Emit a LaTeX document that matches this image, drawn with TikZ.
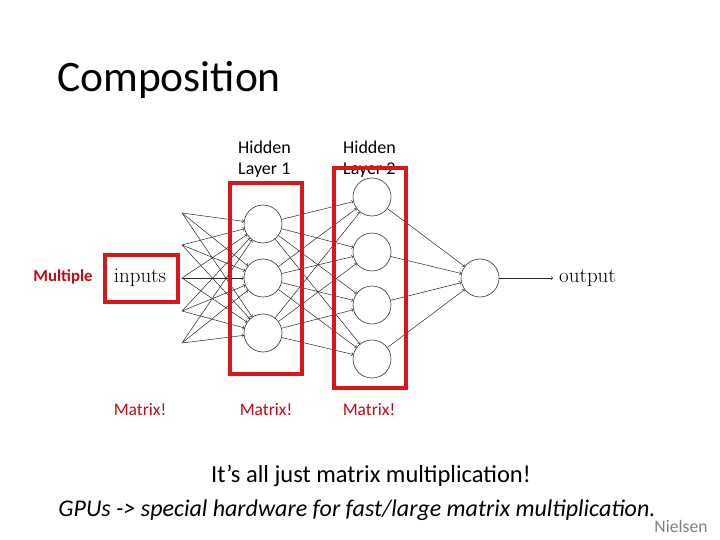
\documentclass[tikz,border=0pt]{standalone}
\usepackage{fontspec}
\newfontfamily\calibri{Carlito}
\definecolor{boxred}{RGB}{218,22,22}
\definecolor{textred}{RGB}{196,10,20}
\definecolor{credit}{RGB}{128,128,128}

\begin{document}
\begin{tikzpicture}[x=1pt, y=-1pt,
  neuron/.style={draw=black!80, circle, minimum size=38pt, inner sep=0pt, line width=0.6pt},
  link/.style={->, line width=0.5pt, black!85},
  redbox/.style={draw=boxred, line width=4pt},
  layer label/.style={anchor=north west, align=left, inner sep=0pt, font=\calibri\fontsize{18}{21}\selectfont},
  matrix label/.style={text=textred, font=\calibri\fontsize{17.5}{20}\selectfont}]

    \fill[white] (0,0) rectangle (720,540);

    \node[anchor=west, inner sep=0pt, font=\calibri\fontsize{43.5}{50}\selectfont] (title) at (57,80) {Composition};

    % input ends
    \coordinate (i1) at (182,213);
    \coordinate (i2) at (182,245);
    \coordinate (i3) at (182,278);
    \coordinate (i4) at (182,311);
    \coordinate (i5) at (182,343);

    % neurons
    \node[neuron] (a1) at (263,224) {};
    \node[neuron] (a2) at (263,278) {};
    \node[neuron] (a3) at (263,333) {};

    \node[neuron] (b1) at (372,197) {};
    \node[neuron] (b2) at (372,252) {};
    \node[neuron] (b3) at (372,305) {};
    \node[neuron] (b4) at (372,359) {};

    \node[neuron] (out) at (480,278) {};

    \node[font=\fontsize{21}{23}\selectfont] (inputs) at (140,278) {inputs};
    \node[anchor=west, inner xsep=6pt, font=\fontsize{21}{23}\selectfont] (output) at (553,278) {output};

    \foreach \i in {1,...,5}
      \foreach \j in {1,2,3}
        \draw[link] (i\i) -- (a\j);
    \foreach \i in {1,2,3}
      \foreach \j in {1,...,4}
        \draw[link] (a\i) -- (b\j);
    \foreach \i in {1,...,4}
      \draw[link] (b\i) -- (out);
    \draw[link] (out) -- (output);

    \node[layer label] (hl1) at (238,141) {Hidden\\Layer 1};
    \node[layer label] (hl2) at (343,141) {Hidden\\Layer 2};

    \draw[redbox] (105,255) rectangle (178,302);
    \draw[redbox] (230,183) rectangle (302,374);
    \draw[redbox] (334,168) rectangle (406,388);

    \node[text=textred, font=\calibri\bfseries\fontsize{16.8}{20}\selectfont] (mult) at (63,277) {Multiple};
    \node[matrix label] (m1) at (140,410) {Matrix!};
    \node[matrix label] (m2) at (266,410) {Matrix!};
    \node[matrix label] (m3) at (369,410) {Matrix!};

    \node[font=\calibri\fontsize{24.5}{28}\selectfont] (note) at (371,476) {It’s all just matrix multiplication!};
    \node[font=\calibri\itshape\fontsize{24}{28}\selectfont] (gpu) at (357,510) {GPUs -> special hardware for fast/large matrix multiplication.};
    \node[text=credit, font=\calibri\fontsize{17.6}{20}\selectfont] (nielsen) at (681,526) {Nielsen};

\end{tikzpicture}
\end{document}
